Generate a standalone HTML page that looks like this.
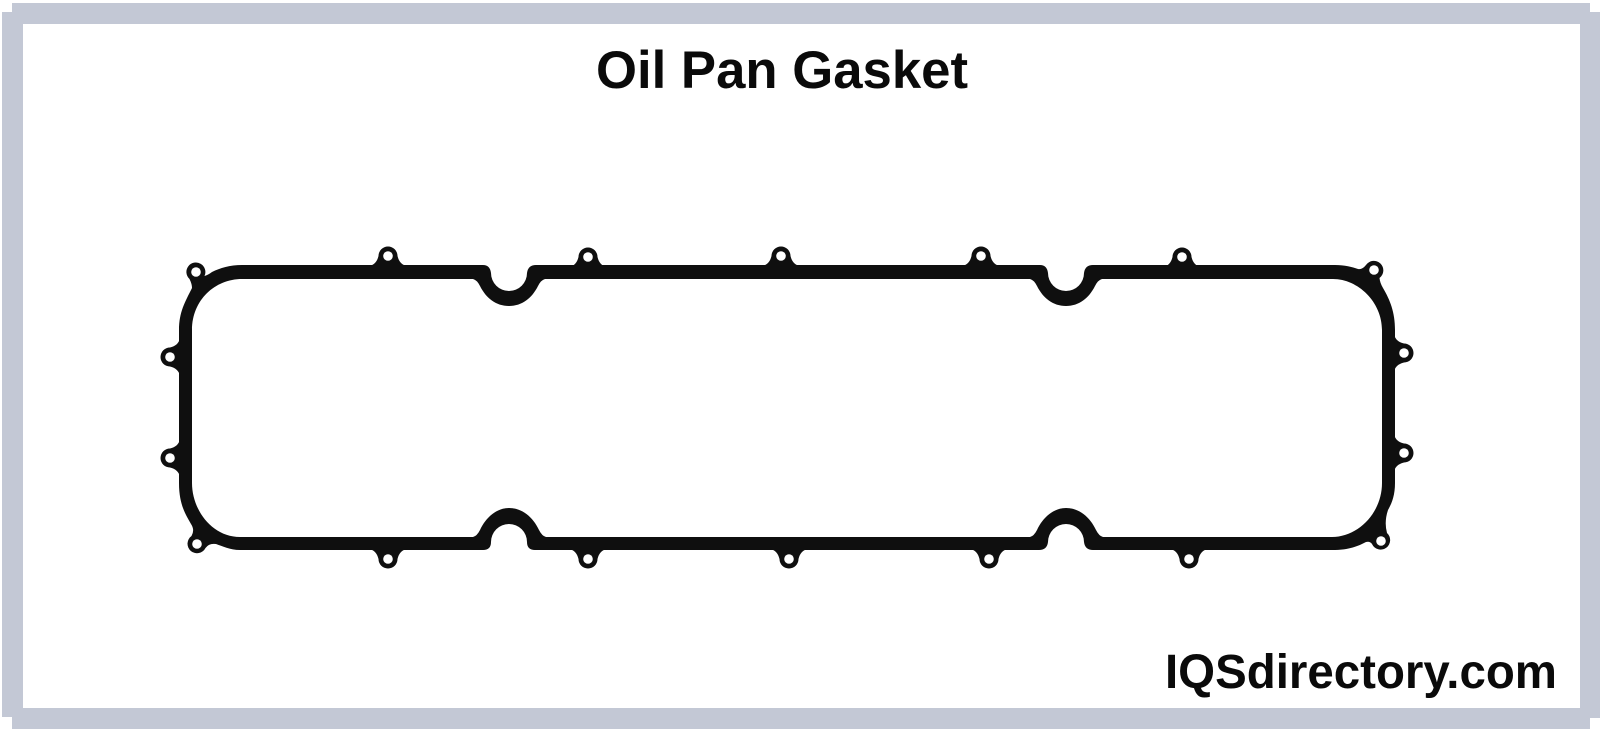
<!DOCTYPE html>
<html><head><meta charset="utf-8"><title>Oil Pan Gasket</title>
<style>html,body{margin:0;padding:0;background:#fff}svg{display:block}</style></head>
<body>
<svg width="1600" height="729" viewBox="0 0 1600 729" xmlns="http://www.w3.org/2000/svg">
<defs>
<g id="lug">
<path d="M-19 10C-14 9-11 6-9.500 0A9.500 9.500 0 0 1 9.500 0C11 6 14 9 19 10Z" fill="#0f0f0f"/>
<circle r="4.800" fill="#fff"/>
</g>
</defs>
<rect width="1600" height="729" fill="#fff"/>
<g fill="#c3c8d5">
<rect x="12" y="3" width="1578" height="21"/>
<rect x="2" y="12" width="21" height="705"/>
<rect x="1580" y="12" width="20" height="706"/>
<rect x="12" y="708" width="1578" height="21"/>
</g>
<text x="596" y="88" font-family="'Liberation Sans',sans-serif" font-weight="700" font-size="53" textLength="372" lengthAdjust="spacingAndGlyphs" fill="#0a0a0a">Oil Pan Gasket</text>
<text x="1165" y="688" font-family="'Liberation Sans',sans-serif" font-weight="700" font-size="48" textLength="392" lengthAdjust="spacingAndGlyphs" fill="#0a0a0a">IQSdirectory.com</text>

<path fill="#0f0f0f" fill-rule="evenodd" d="
M179 330C179 312 185 302 192 288Q192 284 189.500 279A9.500 9.500 0 1 1 204.500 276Q208 275 212 272C220 268 230 265 242 265
H483Q490 265 491 273A18 18 0 0 0 527 273Q528 265 536 265
H1040Q1047 265 1048 273A18 18 0 0 0 1084 273Q1085 265 1093 265
H1335C1345 265 1352 267 1358 269Q1362 270 1366 265A9.500 9.500 0 1 1 1379.500 278Q1380 283 1383 288C1390 300 1395 312 1395 330
V483C1395 495 1392 503 1388 510Q1384 522 1387 533A9.500 9.500 0 1 1 1372 544Q1370 541 1366 542C1358 546 1350 550 1332 550
H1093Q1085 550 1084 542A18 18 0 0 0 1048 542Q1047 550 1039 550
H535Q527 550 527 542A18 18 0 0 0 491 542Q491 550 483 550
H240C230 550 222 546 216 544Q209 543 205.500 548A9.500 9.500 0 1 1 191.500 536Q195 530 191 524C186 515 179 505 179 483Z
M192 330V483C192 510 212 537 240 537
H473Q477 536 480 530C486 517 497 508 509 508C522 508 533 517 539 530Q542 536 546 537
H1030Q1034 536 1037 530C1043 517 1054 508 1066 508C1079 508 1090 517 1096 530Q1099 536 1103 537
H1332C1358 537 1382 513 1382 483
V330C1382 302 1358 279 1333 279
H1102Q1098 280 1095 286C1089 298 1079 306 1066 306C1053 306 1043 298 1037 286Q1034 280 1030 279
H545Q541 280 538 286C532 298 522 306 509 306C496 306 486 298 480 286Q477 280 473 279
H242C215 279 192 300 192 330Z"/>

<use href="#lug" transform="translate(388 256)"/>
<use href="#lug" transform="translate(588 257)"/>
<use href="#lug" transform="translate(781 256)"/>
<use href="#lug" transform="translate(981 256)"/>
<use href="#lug" transform="translate(1182 257)"/>

<use href="#lug" transform="translate(388 559) rotate(180)"/>
<use href="#lug" transform="translate(588 559) rotate(180)"/>
<use href="#lug" transform="translate(789 559) rotate(180)"/>
<use href="#lug" transform="translate(989 559) rotate(180)"/>
<use href="#lug" transform="translate(1189 559) rotate(180)"/>

<use href="#lug" transform="translate(170 357) rotate(-90)"/>
<use href="#lug" transform="translate(170 458) rotate(-90)"/>
<use href="#lug" transform="translate(1404 353) rotate(90)"/>
<use href="#lug" transform="translate(1404 453) rotate(90)"/>

<g fill="#fff">
<circle cx="196" cy="272" r="4.800"/>
<circle cx="197" cy="544" r="4.800"/>
<circle cx="1374" cy="270" r="4.800"/>
<circle cx="1381" cy="541" r="4.800"/>
</g>
</svg>
</body></html>
